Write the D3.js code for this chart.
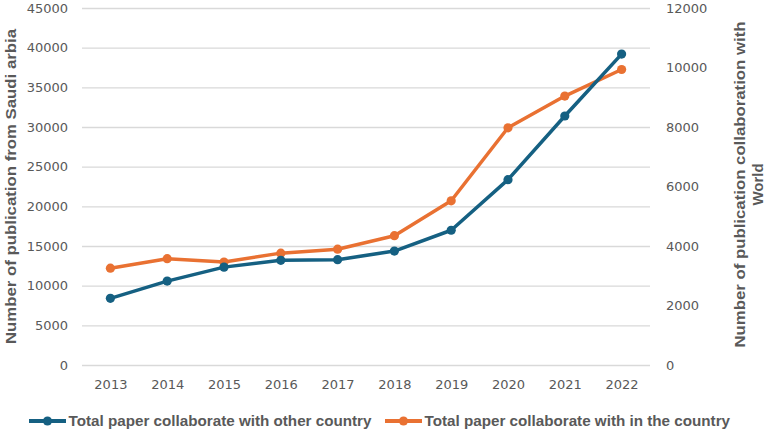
<!DOCTYPE html>
<html><head><meta charset="utf-8">
<script src="https://cdn.jsdelivr.net/npm/d3@7"></script>
<style>
html,body{margin:0;padding:0;background:#fff;}
svg{display:block;}
</style></head>
<body>
<svg id="c" width="767" height="431"></svg>
<script>
const years = [2013, 2014, 2015, 2016, 2017, 2018, 2019, 2020, 2021, 2022];
// Blue series, plotted on right axis
const otherCountry = [2240, 2820, 3290, 3520, 3540, 3830, 4530, 6230, 8370, 10450];
// Orange series, plotted on left axis
const withinCountry = [12200, 13400, 12980, 14100, 14600, 16300, 20700, 29900, 33900, 37250];
const leftTicks = [0, 5000, 10000, 15000, 20000, 25000, 30000, 35000, 40000, 45000];
const rightTicks = [0, 2000, 4000, 6000, 8000, 10000, 12000];
const seriesNames = ["Total paper collaborate with other country", "Total paper collaborate with in the country"];
const leftTitle = "Number of publication from Saudi arbia";
const rightTitle = ["Number of publication collaboration with", "World"];

const blue = "#156082", orange = "#E97132", grid = "#d9d9d9", txt = "#595959";
const svg = d3.select("#c");
const L = 82, R = 650, T = 8, B = 365;

const x = d3.scalePoint().domain(years).range([L, R]).padding(0.5);
const yL = d3.scaleLinear().domain([0, 45000]).range([B, T]);
const yR = d3.scaleLinear().domain([0, 12000]).range([B, T]);

// gridlines
svg.append("g").selectAll("line").data(leftTicks).join("line")
  .attr("x1", L).attr("x2", R)
  .attr("y1", d => yL(d) + 0.5).attr("y2", d => yL(d) + 0.5)
  .attr("stroke", grid).attr("stroke-width", 1.3);

const tickFont = "'DejaVu Sans', sans-serif";
// left ticks
const gl = svg.append("g").attr("transform", `translate(${L},0)`)
  .call(d3.axisLeft(yL).tickValues(leftTicks).tickSize(0).tickPadding(14).tickFormat(d3.format("d")));
gl.select(".domain").remove();
gl.selectAll("text").attr("fill", txt).style("font-family", tickFont).style("font-size", "13px");

// right ticks
const gr = svg.append("g").attr("transform", `translate(${R},0)`)
  .call(d3.axisRight(yR).tickValues(rightTicks).tickSize(0).tickPadding(16).tickFormat(d3.format("d")));
gr.select(".domain").remove();
gr.selectAll("text").attr("fill", txt).style("font-family", tickFont).style("font-size", "13px");

// x ticks
const gx = svg.append("g").attr("transform", `translate(0,${B})`)
  .call(d3.axisBottom(x).tickSize(0).tickPadding(15).tickFormat(d3.format("d")));
gx.select(".domain").remove();
gx.selectAll("text").attr("fill", txt).style("font-family", tickFont).style("font-size", "13px");

// lines
const lineL = d3.line().x((d, i) => x(years[i])).y(d => yL(d));
const lineR = d3.line().x((d, i) => x(years[i])).y(d => yR(d));

function drawSeries(vals, line, scale, color) {
  svg.append("path").datum(vals).attr("d", line)
    .attr("fill", "none").attr("stroke", color).attr("stroke-width", 3.5)
    .attr("stroke-linejoin", "round");
  svg.append("g").selectAll("circle").data(vals).join("circle")
    .attr("cx", (d, i) => x(years[i])).attr("cy", d => scale(d))
    .attr("r", 4.6).attr("fill", color);
}
drawSeries(withinCountry, lineL, yL, orange);
drawSeries(otherCountry, lineR, yR, blue);

// axis titles
const titleFont = "'Liberation Sans', Arial, sans-serif";
const cy = (T + B) / 2;
svg.append("text").attr("transform", `translate(16,${cy}) rotate(-90)`)
  .attr("text-anchor", "middle").attr("fill", txt)
  .style("font-family", titleFont).style("font-size", "15px").style("font-weight", "bold")
  .attr("textLength", 315).attr("lengthAdjust", "spacingAndGlyphs")
  .text(leftTitle);
svg.append("text").attr("transform", `translate(745,${cy - 2}) rotate(-90)`)
  .attr("text-anchor", "middle").attr("fill", txt)
  .style("font-family", titleFont).style("font-size", "15px").style("font-weight", "bold")
  .attr("textLength", 326).attr("lengthAdjust", "spacingAndGlyphs")
  .text(rightTitle[0]);
svg.append("text").attr("transform", `translate(763,${cy - 2}) rotate(-90)`)
  .attr("text-anchor", "middle").attr("fill", txt)
  .style("font-family", titleFont).style("font-size", "15px").style("font-weight", "bold")
  .text(rightTitle[1]);

// legend
const legend = [
  {name: seriesNames[0], color: blue, x0: 29, tx: 68.5, w: 303},
  {name: seriesNames[1], color: orange, x0: 385, tx: 424.5, w: 305.5}
];
const lg = svg.append("g");
legend.forEach(d => {
  lg.append("line").attr("x1", d.x0).attr("x2", d.x0 + 37).attr("y1", 421).attr("y2", 421)
    .attr("stroke", d.color).attr("stroke-width", 4);
  lg.append("circle").attr("cx", d.x0 + 18.5).attr("cy", 421).attr("r", 4.6).attr("fill", d.color);
  lg.append("text").attr("x", d.tx).attr("y", 426).attr("fill", txt)
    .style("font-family", titleFont).style("font-size", "14px").style("font-weight", "bold")
    .attr("textLength", d.w).attr("lengthAdjust", "spacingAndGlyphs")
    .text(d.name);
});
</script>
</body></html>
